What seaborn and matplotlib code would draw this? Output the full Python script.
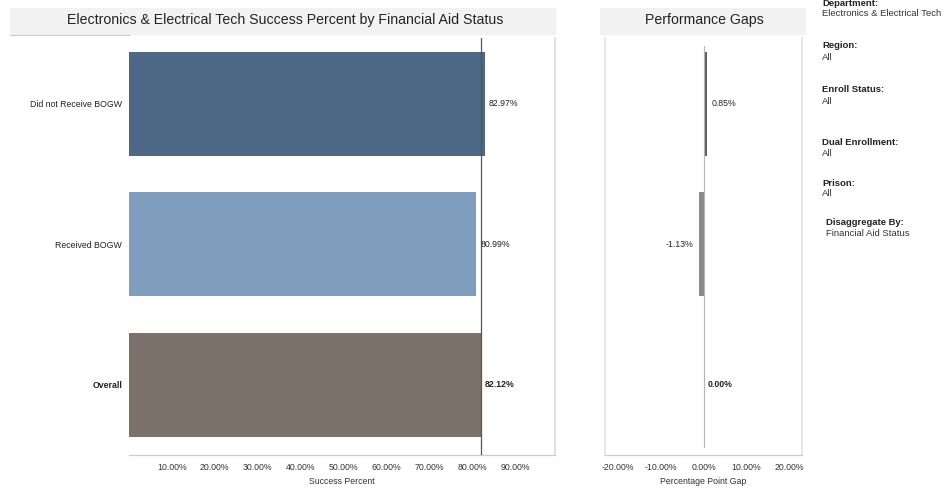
import matplotlib
matplotlib.use("Agg")
import matplotlib.pyplot as plt
import seaborn as sns
import pandas as pd
from matplotlib.ticker import FuncFormatter

# Data
categories = ["Did not Receive BOGW", "Received BOGW", "Overall"]
success_pct = [82.97, 80.99, 82.12]
gap_pct = [0.85, -1.13, 0.00]
success_ticks = [10, 20, 30, 40, 50, 60, 70, 80, 90]
gap_ticks = [-20, -10, 0, 10, 20]

bar_colors = ["#4d6886", "#7f9dbc", "#7b716b"]
gap_colors = ["#5e5e5e", "#8a8a8a", "#9a9a9a"]

df = pd.DataFrame({"category": categories, "success": success_pct, "gap": gap_pct})

sns.set_theme(style="white")
plt.rcParams["font.family"] = ["Liberation Sans", "DejaVu Sans"]

W, H = 946, 493
fig = plt.figure(figsize=(W / 100, H / 100), dpi=100)
fig.patch.set_facecolor("white")


def fx(px):
    return px / W


def fy(py):
    return 1 - py / H


pct = FuncFormatter(lambda v, _: f"{v:.2f}%")

# ---- Success percent panel ----
ax1 = fig.add_axes([fx(129), fy(455), fx(555 - 129), (455 - 38) / H])
sns.barplot(data=df, x="success", y="category", hue="category", palette=bar_colors,
            order=categories, hue_order=categories, legend=False,
            width=0.74, saturation=1, linewidth=0, ax=ax1)
ax1.set_xlim(0, 99.3)
ax1.set_ylim(2.5, -0.47)
ax1.set_xticks(success_ticks)
ax1.xaxis.set_major_formatter(pct)
ax1.tick_params(axis="x", labelsize=6.3, colors="#333333", length=0, pad=6)
ax1.tick_params(axis="y", labelsize=6.3, colors="#222222", length=0, pad=5)
ax1.set_xlabel("Success Percent", fontsize=6.3, color="#333333", labelpad=3)
ax1.set_ylabel("")
for lab in ax1.get_yticklabels():
    if lab.get_text() == "Overall":
        lab.set_fontweight("bold")
overall = success_pct[categories.index("Overall")]
ax1.axvline(overall, color="#555555", lw=0.9, zorder=3)
for i, v in enumerate(success_pct):
    bold = categories[i] == "Overall"
    ax1.text(v + 0.9, i, f"{v:.2f}%", va="center", ha="left", fontsize=6.3,
             color="#222222", fontweight="bold" if bold else "normal")
for s in ["top", "left"]:
    ax1.spines[s].set_visible(False)
ax1.spines["right"].set_color("#dddddd")
ax1.spines["bottom"].set_color("#cccccc")
ax1.spines["bottom"].set_linewidth(0.9)

# ---- Performance gap panel ----
ax2 = fig.add_axes([fx(605), fy(455), fx(802 - 605), (455 - 38) / H])
sns.barplot(data=df, x="gap", y="category", hue="category", palette=gap_colors,
            order=categories, hue_order=categories, legend=False,
            width=0.74, saturation=1, linewidth=0, ax=ax2)
ax2.set_xlim(-23, 23)
ax2.set_ylim(2.5, -0.47)
ax2.set_xticks(gap_ticks)
ax2.xaxis.set_major_formatter(pct)
ax2.tick_params(axis="x", labelsize=6.3, colors="#333333", length=0, pad=6)
ax2.set_yticks([])
ax2.set_ylabel("")
ax2.set_xlabel("Percentage Point Gap", fontsize=6.3, color="#333333", labelpad=3)
ax2.axvline(0, color="#b5b5b5", lw=0.8, zorder=1.5, ymin=0.02, ymax=0.98)
for i, v in enumerate(gap_pct):
    bold = categories[i] == "Overall"
    if v < 0:
        ax2.text(v - 1.2, i, f"{v:.2f}%", va="center", ha="right", fontsize=6.3,
                 color="#222222")
    else:
        ax2.text(v + 1.0, i, f"{v:.2f}%", va="center", ha="left", fontsize=6.3,
                 color="#222222", fontweight="bold" if bold else "normal")
ax2.spines["top"].set_visible(False)
for s in ["left", "right"]:
    ax2.spines[s].set_color("#e4e4e4")
ax2.spines["bottom"].set_color("#cccccc")
ax2.spines["bottom"].set_linewidth(0.9)

# ---- Titles ----
fig.patches.append(plt.Rectangle((fx(10), fy(34)), fx(545), 26 / H,
                                 transform=fig.transFigure, color="#f2f2f2", zorder=0))
fig.patches.append(plt.Rectangle((fx(600), fy(34)), fx(205), 26 / H,
                                 transform=fig.transFigure, color="#f2f2f2", zorder=0))
fig.text(fx(285), fy(20), "Electronics & Electrical Tech Success Percent by Financial Aid Status",
         ha="center", va="center", fontsize=10.2, color="#222222")
fig.text(fx(704), fy(20), "Performance Gaps", ha="center", va="center",
         fontsize=10.2, color="#222222")
fig.add_artist(plt.Line2D([fx(10), fx(130)], [fy(35), fy(35)],
                          transform=fig.transFigure, color="#cccccc", lw=0.8))

# ---- Filter summary ----
filters = [
    ("Department:", "Electronics & Electrical Tech", 3, 822),
    ("Region:", "All", 46, 822),
    ("Enroll Status:", "All", 90, 822),
    ("Dual Enrollment:", "All", 142, 822),
    ("Prison:", "All", 183, 822),
    ("Disaggregate By:", "Financial Aid Status", 222, 826),
]
for head, val, y, x in filters:
    fig.text(fx(x), fy(y), head, ha="left", va="center", fontsize=6.8,
             fontweight="bold", color="#222222")
    fig.text(fx(x), fy(y + 11), val, ha="left", va="center", fontsize=6.8,
             color="#333333")

fig.savefig("out.png", dpi=100, facecolor="white")
